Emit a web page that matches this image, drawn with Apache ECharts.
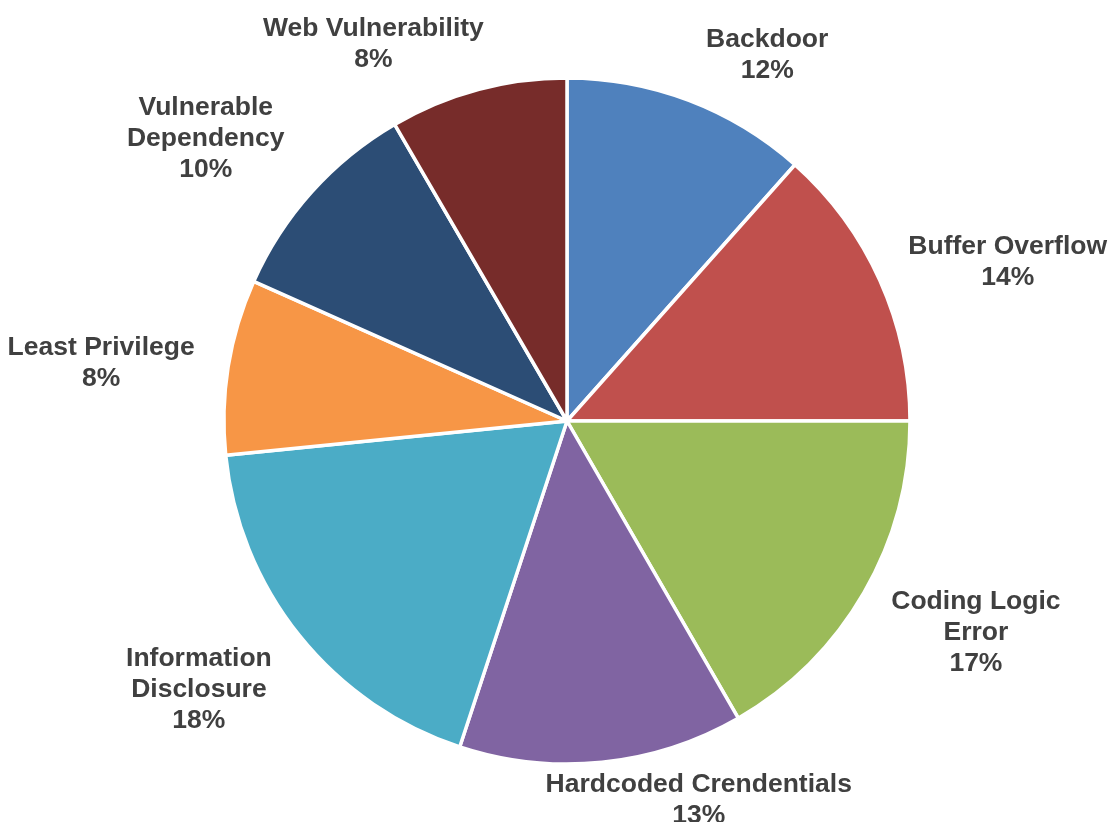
<!DOCTYPE html>
<html>
<head>
<meta charset="utf-8">
<script src="https://cdn.jsdelivr.net/npm/echarts@6/dist/echarts.min.js"></script>
<style>
html,body{margin:0;padding:0;background:#ffffff;}
#chart{width:1109px;height:822px;}
</style>
</head>
<body>
<div id="chart"></div>
<script>
// ---- data ----
const categories = [
  'Backdoor',
  'Buffer Overflow',
  'Coding Logic Error',
  'Hardcoded Crendentials',
  'Information Disclosure',
  'Least Privilege',
  'Vulnerable Dependency',
  'Web Vulnerability'
];
const shares = [11.57, 13.43, 16.68, 13.38, 18.35, 8.26, 9.95, 8.38];

// ---- styling ----
const colors = ['#4F81BD', '#C0504D', '#9BBB59', '#8064A2', '#4BACC6', '#F79646', '#2C4D75', '#772C2A'];
const wrapped = {
  'Coding Logic Error': 'Coding Logic\nError',
  'Information Disclosure': 'Information\nDisclosure',
  'Vulnerable Dependency': 'Vulnerable\nDependency'
};
const CX = 567, CY = 421, R = 343;
const labelGap = 10;
const labelNudge = [[53, -7], [28, -2], [30, 12], [80, -3], [-36, 19], [-25, 3], [-40, -15], [-73, -6]];

const total = shares.reduce((a, b) => a + b, 0);
const midAngles = [];
let acc = 0;
shares.forEach(v => { midAngles.push((acc + v / 2) / total * 2 * Math.PI); acc += v; });

const chart = echarts.init(document.getElementById('chart'), null, {renderer: 'canvas'});
chart.setOption({
  animation: false,
  backgroundColor: '#ffffff',
  color: colors,
  series: [{
    type: 'pie',
    center: [CX, CY],
    radius: R,
    startAngle: 90,
    clockwise: true,
    avoidLabelOverlap: false,
    percentPrecision: 0,
    emphasis: {disabled: true},
    itemStyle: {borderColor: '#ffffff', borderWidth: 3.5},
    label: {
      show: true,
      position: 'outside',
      fontFamily: '"Liberation Sans", Arial, sans-serif',
      fontWeight: 'bold',
      fontSize: 26.5,
      lineHeight: 31,
      color: '#404040',
      formatter: p => (wrapped[p.name] || p.name) + '\n' + p.percent + '%'
    },
    labelLine: {show: false},
    labelLayout: function (p) {
      const i = p.dataIndex;
      const a = midAngles[i];
      const ux = Math.sin(a), uy = -Math.cos(a);
      const w = p.labelRect.width, h = p.labelRect.height;
      return {
        x: CX + (R + labelGap) * ux + ux * w / 2 + labelNudge[i][0],
        y: CY + (R + labelGap) * uy + uy * h / 2 + labelNudge[i][1],
        align: 'center',
        verticalAlign: 'middle'
      };
    },
    data: categories.map((c, i) => ({name: c, value: shares[i]}))
  }]
});
</script>
</body>
</html>
